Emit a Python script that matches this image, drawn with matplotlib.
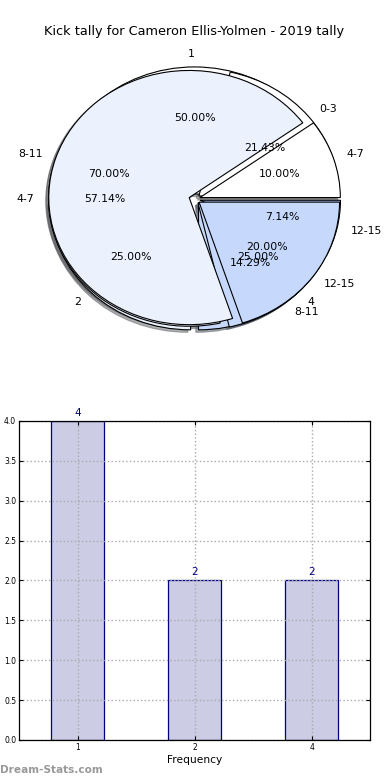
import matplotlib
matplotlib.use("Agg")
import matplotlib.pyplot as plt

title = "Kick tally for Cameron Ellis-Yolmen - 2019 tally"

# three pies drawn on top of each other, as in the original
freq_labels = ["1", "2", "4"]
freq_counts = [4, 2, 2]

range_labels_a = ["0-3", "4-7", "8-11", "12-15"]
range_counts_a = [3, 8, 2, 1]

range_labels_b = ["4-7", "8-11", "12-15"]
range_counts_b = [1, 7, 2]

pie_colors = ["#ffffff", "#ebf1fd", "#c6d9fd", "#a9c6fb"]

bar_labels = ["1", "2", "4"]
bar_values = [4, 2, 2]

fig = plt.figure(figsize=(3.9, 7.8), dpi=100)

pie_axis = fig.add_axes([0.0487, 0.541, 0.9003, 0.4074])
for labels, counts in [
    (freq_labels, freq_counts),
    (range_labels_a, range_counts_a),
    (range_labels_b, range_counts_b),
]:
    wedges, texts, autotexts = pie_axis.pie(
        counts,
        labels=labels,
        colors=pie_colors[: len(counts)],
        explode=[0.04] * len(counts),
        autopct="%1.2f%%",
        shadow={"ox": -0.014, "oy": -0.014, "shade": 0.6},
        startangle=0,
        wedgeprops={"edgecolor": "black", "linewidth": 0.8},
        textprops={"fontsize": 7.8},
    )
pie_axis.set_aspect("auto")
pie_axis.set_xlim(-1.25, 1.25)
pie_axis.set_ylim(-1.25, 1.25)
pie_axis.set_title(title, fontsize=9.3, pad=4)

bar_axis = fig.add_axes([0.0487, 0.0513, 0.9003, 0.4090])
positions = range(len(bar_values))
bar_axis.bar(positions, bar_values, width=0.45, color="#cccce4", edgecolor="navy", linewidth=0.9, zorder=2)
for pos, value in zip(positions, bar_values):
    bar_axis.text(pos, value + 0.04, str(value), ha="center", va="bottom", color="navy", fontsize=7.5)
bar_axis.set_xticks(list(positions))
bar_axis.set_xticklabels(bar_labels)
bar_axis.set_xlim(-0.5, 2.5)
bar_axis.set_ylim(0, 4)
bar_axis.set_yticks([0, 0.5, 1.0, 1.5, 2.0, 2.5, 3.0, 3.5, 4.0])
bar_axis.set_yticklabels([f"{v:.1f}" for v in bar_axis.get_yticks()])
bar_axis.tick_params(labelsize=5.5, direction="in", top=True, right=True, length=3, pad=2)
bar_axis.grid(True, linestyle=":", color="#aaaaaa", linewidth=1.0, zorder=3)
bar_axis.set_axisbelow(False)
bar_axis.set_xlabel("Frequency", fontsize=7.7, labelpad=2.5)
for spine in bar_axis.spines.values():
    spine.set_linewidth(0.9)
    spine.set_zorder(4)

fig.text(0.0, 0.006, "Dream-Stats.com", fontsize=7.6, color="#999999", fontweight="bold", ha="left", va="bottom")

fig.savefig("out.png", dpi=100)
